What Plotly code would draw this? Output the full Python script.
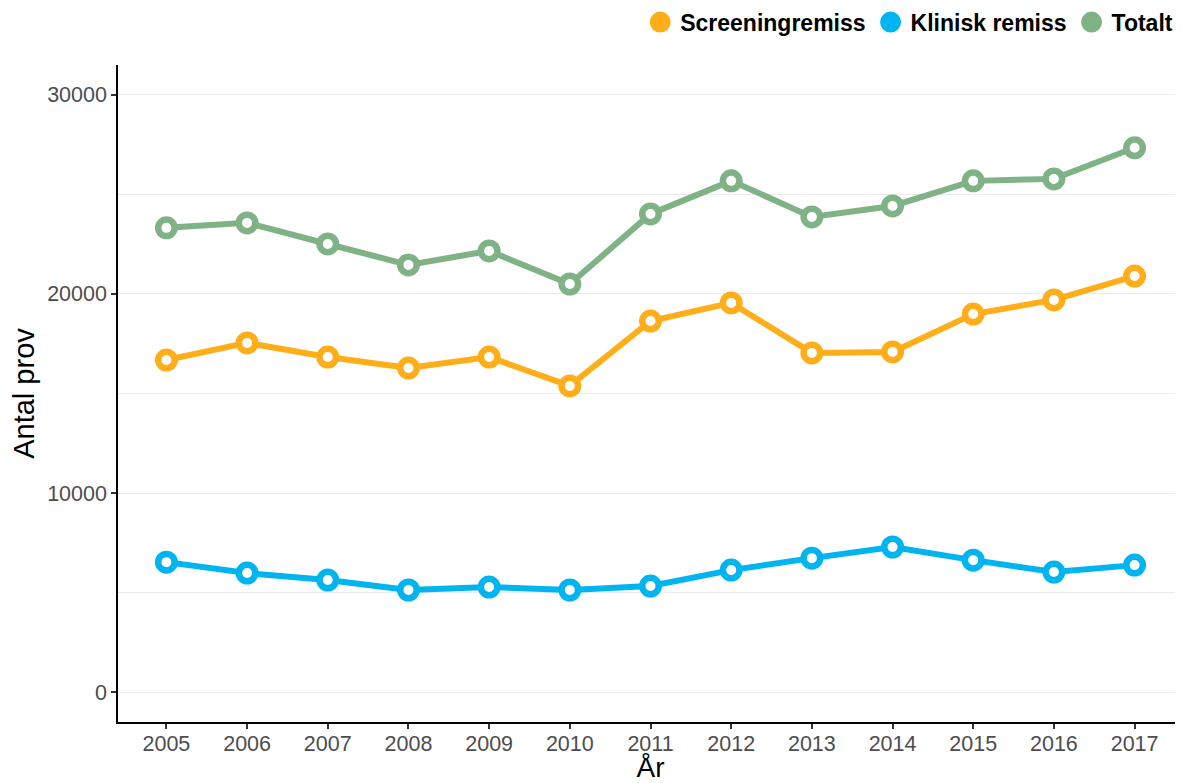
import plotly.graph_objects as go

years = [2005, 2006, 2007, 2008, 2009, 2010, 2011, 2012, 2013, 2014, 2015, 2016, 2017]
screening = [16680, 17540, 16830, 16280, 16830, 15380, 18640, 19550, 17040, 17090, 18990, 19700, 20900]
klinisk = [6530, 5980, 5630, 5130, 5280, 5130, 5330, 6130, 6730, 7290, 6630, 6030, 6380]
totalt = [23320, 23570, 22510, 21460, 22160, 20500, 24020, 25680, 23870, 24420, 25680, 25780, 27340]

series_names = ["Screeningremiss", "Klinisk remiss", "Totalt"]
series_values = [screening, klinisk, totalt]
colors = ["#FFAE1A", "#00B4F0", "#7FB285"]

y_ticks = [0, 10000, 20000, 30000]
x_ticks = years

fig = go.Figure()

for name, vals, col in zip(series_names, series_values, colors):
    fig.add_trace(go.Scatter(
        x=years, y=vals, mode="lines+markers", name=name, showlegend=False,
        line=dict(color=col, width=6),
        marker=dict(symbol="circle", size=16.5, color="white", line=dict(color=col, width=6.5)),
    ))

for name, col in zip(series_names, colors):
    fig.add_trace(go.Scatter(
        x=[None], y=[None], mode="markers", name=name,
        marker=dict(symbol="circle", size=24, color=col, line=dict(color=col, width=5)),
    ))

fig.update_layout(
    width=1175, height=775,
    paper_bgcolor="white", plot_bgcolor="white",
    margin=dict(l=110, r=0, t=57, b=61, autoexpand=False),
    font=dict(family="Liberation Sans, Arial, sans-serif"),
    legend=dict(
        orientation="h", x=0.9955, xanchor="right", y=1.098, yanchor="top",
        xref="paper", yref="paper",
        font=dict(size=23, color="black", family="Liberation Sans, Arial, sans-serif", weight="bold"),
        itemsizing="trace", itemwidth=30, tracegroupgap=0,
        bgcolor="rgba(0,0,0,0)",
    ),
    xaxis=dict(
        range=[2004.4, 2017.6], tickmode="array", tickvals=x_ticks,
        ticktext=[str(y) for y in x_ticks],
        showgrid=False, zeroline=False, automargin=False,
        showline=True, linecolor="black", linewidth=1.5,
        ticks="outside", ticklen=5, tickcolor="#333333", tickwidth=1.5,
        ticklabelstandoff=-4,
        tickfont=dict(size=21.5, color="#4d4d4d"),
        title=dict(text="År", font=dict(size=28, color="black"), standoff=0),
    ),
    yaxis=dict(
        range=[-1500, 31500], tickmode="array", tickvals=y_ticks,
        ticktext=[str(v) for v in y_ticks],
        showgrid=True, gridcolor="#EBEBEB", gridwidth=1.2, zeroline=False, automargin=False,
        minor=dict(tickmode="array", tickvals=[5000, 15000, 25000], showgrid=True, gridcolor="#EBEBEB", gridwidth=1, ticks=""),
        showline=True, linecolor="black", linewidth=1.5,
        ticks="outside", ticklen=5, tickcolor="#333333", tickwidth=1.5,
        tickfont=dict(size=21.5, color="#4d4d4d"),
        title=dict(text="Antal prov", font=dict(size=29, color="black"), standoff=8),
    ),
)

fig.write_html("out.html")
